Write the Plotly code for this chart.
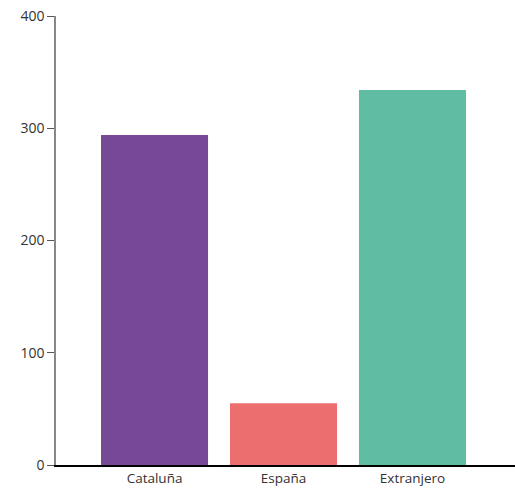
import plotly.graph_objects as go

categories = ["Cataluña", "España", "Extranjero"]
values = [294, 55, 334]
colors = ["#774896", "#EC6E6F", "#60BCA3"]
y_ticks = [0, 100, 200, 300, 400]

fig = go.Figure(go.Bar(
    x=categories, y=values, marker=dict(color=colors, line=dict(width=0)),
    width=0.83, hoverinfo="x+y"
))

fig.update_layout(
    width=515, height=491,
    margin=dict(l=56, r=0, t=16, b=26),
    paper_bgcolor="white", plot_bgcolor="white",
    font=dict(family="Open Sans, Noto Sans, sans-serif", size=13, color="#333"),
    showlegend=False,
)
fig.update_xaxes(
    range=[-0.764, 2.795], showline=True, linecolor="#000", linewidth=1.5,
    ticks="", showgrid=False, zeroline=False, automargin=False,
    tickfont=dict(size=13.5, color="#333"),
)
fig.update_yaxes(
    range=[0, 400], tickvals=y_ticks, showline=True, linecolor="#888", linewidth=1.5,
    ticks="outside", ticklen=7, tickcolor="#555", tickwidth=1,
    showgrid=False, zeroline=False, automargin=False,
    tickfont=dict(size=14, color="#333"),
)

fig.write_html(
    "out.html",
    config={"displayModeBar": False},
    post_script="document.body.style.margin='0';document.body.style.overflow='hidden';",
)
